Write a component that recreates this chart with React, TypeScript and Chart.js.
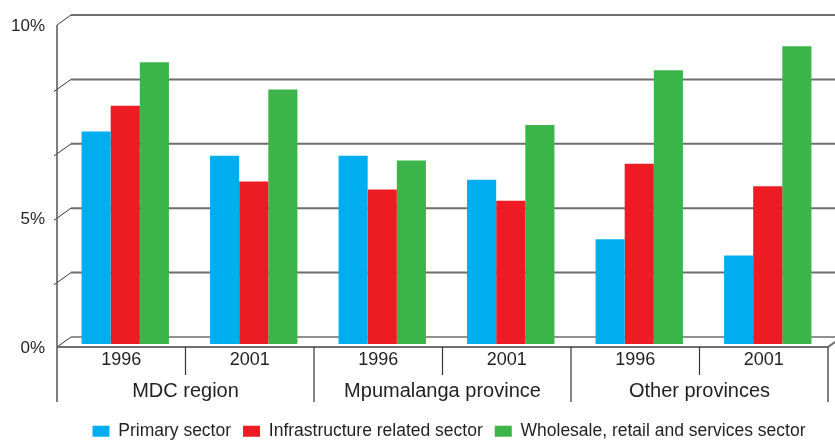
import { useEffect, useRef } from "react";
import { Chart, registerables } from "chart.js";

Chart.register(...registerables);

const years = ["1996", "2001", "1996", "2001", "1996", "2001"];
const groups = ["MDC region", "Mpumalanga province", "Other provinces"];
const seriesNames = [
  "Primary sector",
  "Infrastructure related sector",
  "Wholesale, retail and services sector",
];
const primary = [6.6, 5.85, 5.85, 5.1, 3.25, 2.75];
const infrastructure = [7.4, 5.05, 4.8, 4.45, 5.6, 4.9];
const wholesale = [8.75, 7.9, 5.7, 6.8, 8.5, 9.25];
const yTickValues = [0, 2, 4, 6, 8, 10];
const yTickLabels = ["0%", "", "5%", "", "", "10%"];
const colors = ["#00AEEF", "#ED1C24", "#3BB54A"];

const FONT = "'Liberation Sans', Arial, sans-serif";
const TEXT = "#231f20";
const FRONT_DX = -4;
const FRONT_DY = 3;
const BACK_DX = 10;
const BACK_DY = -7;
const AXIS_DROP = 58;
const SHORT_DROP = 28;

const frame3d = {
  id: "frame3d",
  afterLayout(chart: any) {
    const lg = chart.legend;
    if (lg) {
      lg.left += 33;
      lg.right += 33;
      lg.top += 10;
      lg.bottom += 10;
    }
  },
  beforeDatasetsDraw(chart: any) {
    const { ctx, chartArea: a, scales } = chart;
    const y = scales.y;
    const W = chart.width;
    const fl = a.left + FRONT_DX;
    const bl = a.left + BACK_DX;
    ctx.save();
    yTickValues.forEach((v, i) => {
      const yp = y.getPixelForValue(v);
      const yb = yp + BACK_DY;
      const yf = yp + FRONT_DY;
      ctx.beginPath();
      ctx.strokeStyle = v === 0 ? "#222" : "#6e6e6e";
      ctx.lineWidth = v === 0 ? 1 : 2;
      ctx.moveTo(bl, yb);
      ctx.lineTo(W, yb);
      ctx.stroke();
      ctx.beginPath();
      ctx.strokeStyle = "#333";
      ctx.lineWidth = 1;
      const ext = i === 0 || i === yTickValues.length - 1 ? 0 : 3;
      ctx.moveTo(fl - ext, yf + (ext * 10) / 14);
      ctx.lineTo(bl, yb);
      ctx.stroke();
    });
    ctx.restore();
  },
  afterDatasetsDraw(chart: any) {
    const { ctx, chartArea: a, scales } = chart;
    const x = scales.x;
    const y = scales.y;
    const fl = a.left + FRONT_DX;
    const fr = a.right + FRONT_DX;
    const fb = a.bottom + FRONT_DY;
    const ftop = y.getPixelForValue(10) + FRONT_DY;
    ctx.save();
    ctx.beginPath();
    ctx.strokeStyle = "#6e6e6e";
    ctx.lineWidth = 2;
    ctx.moveTo(fl, fb);
    ctx.lineTo(fr, fb);
    ctx.lineTo(fr + (BACK_DX - FRONT_DX), fb + (BACK_DY - FRONT_DY));
    ctx.stroke();
    ctx.beginPath();
    ctx.strokeStyle = "#555";
    ctx.lineWidth = 1.5;
    ctx.moveTo(fl, ftop);
    ctx.lineTo(fl, fb + AXIS_DROP - 3);
    ctx.stroke();
    ctx.beginPath();
    ctx.moveTo(fr, fb);
    ctx.lineTo(fr, fb + AXIS_DROP - 3);
    ctx.stroke();
    ctx.strokeStyle = "#333";
    ctx.lineWidth = 1.2;
    for (let i = 0; i < years.length - 1; i++) {
      const mid = (x.getPixelForValue(i) + x.getPixelForValue(i + 1)) / 2 + FRONT_DX;
      const drop = (i + 1) % 2 === 0 ? AXIS_DROP - 3 : SHORT_DROP;
      ctx.beginPath();
      ctx.moveTo(mid, fb);
      ctx.lineTo(mid, fb + drop);
      ctx.stroke();
    }
    ctx.fillStyle = TEXT;
    ctx.font = `20px ${FONT}`;
    ctx.textAlign = "center";
    ctx.textBaseline = "alphabetic";
    groups.forEach((g, gi) => {
      const cx =
        (x.getPixelForValue(gi * 2) + x.getPixelForValue(gi * 2 + 1)) / 2 + FRONT_DX;
      ctx.fillText(g, cx, fb + 50);
    });
    ctx.restore();
  },
};

export default function App() {
  const ref = useRef<HTMLCanvasElement>(null);
  useEffect(() => {
    const chart = new Chart(ref.current!, {
      type: "bar",
      data: {
        labels: years,
        datasets: [
          { label: seriesNames[0], data: primary, backgroundColor: colors[0] },
          { label: seriesNames[1], data: infrastructure, backgroundColor: colors[1] },
          { label: seriesNames[2], data: wholesale, backgroundColor: colors[2] },
        ],
      },
      options: {
        animation: false,
        responsive: true,
        maintainAspectRatio: false,
        layout: { padding: { left: 0, right: 3, top: 22, bottom: 0 } },
        datasets: { bar: { categoryPercentage: 0.68, barPercentage: 1 } },
        scales: {
          x: {
            grid: { display: false, drawTicks: false },
            border: { display: false },
            ticks: {
              font: { family: FONT, size: 18 },
              color: TEXT,
              padding: 5,
              labelOffset: -4,
              maxRotation: 0,
              autoSkip: false,
            },
            afterFit: (s: any) => {
              s.height = 56.5;
              s.paddingLeft = 0;
              s.paddingRight = 0;
            },
          },
          y: {
            min: 0,
            max: 10,
            grid: { display: false, drawTicks: false },
            border: { display: false },
            ticks: {
              stepSize: 2,
              padding: 16,
              labelOffset: 4,
              color: TEXT,
              font: { family: FONT, size: 17 },
              callback: (v: any) => {
                const i = yTickValues.indexOf(Number(v));
                return i >= 0 ? yTickLabels[i] : "";
              },
            },
            afterFit: (s: any) => {
              s.width = 61;
              s.paddingTop = 0;
              s.paddingBottom = 0;
            },
          },
        },
        plugins: {
          legend: {
            position: "bottom",
            labels: {
              boxWidth: 17,
              boxHeight: 11,
              padding: 12,
              color: TEXT,
              font: { family: FONT, size: 17.5 },
            },
          },
          tooltip: { enabled: false },
        },
      },
      plugins: [frame3d],
    } as any);
    return () => chart.destroy();
  }, []);
  return (
    <div style={{ position: "fixed", left: 0, top: 0, width: 835, height: 440 }}>
      <canvas ref={ref} />
    </div>
  );
}
